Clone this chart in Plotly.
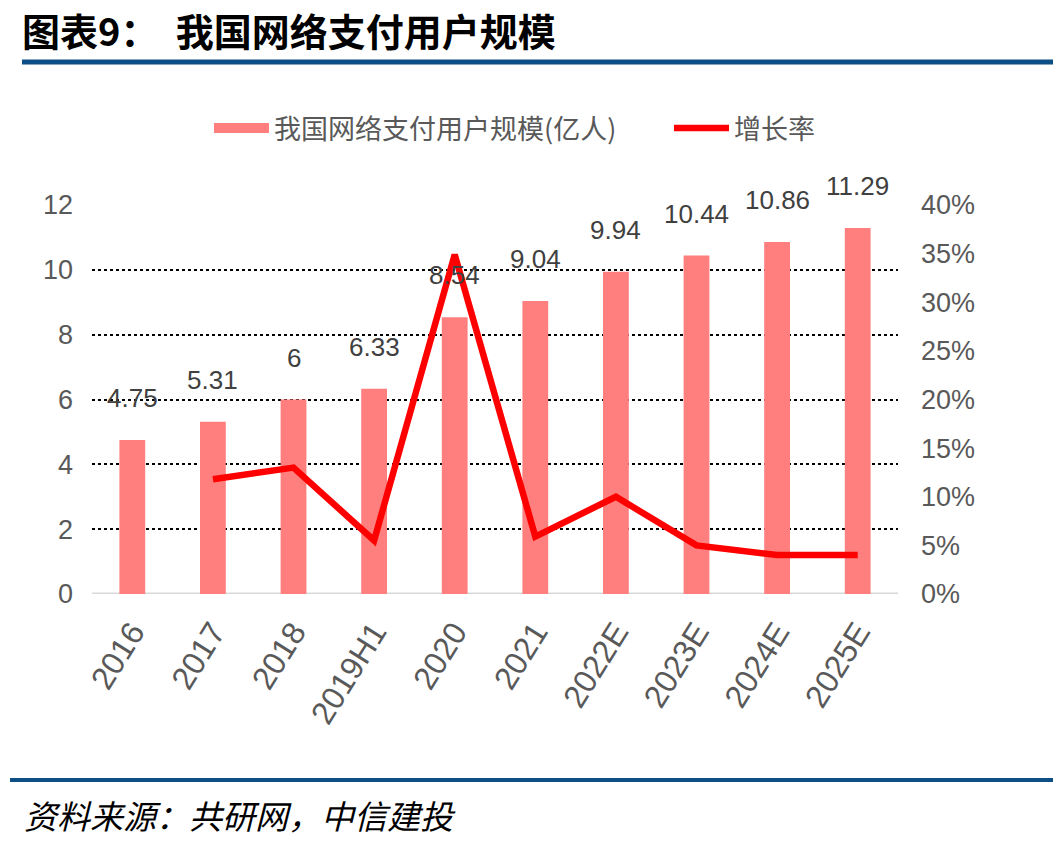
import plotly.graph_objects as go

categories = ["2016", "2017", "2018", "2019H1", "2020", "2021", "2022E", "2023E", "2024E", "2025E"]
users = [4.75, 5.31, 6, 6.33, 8.54, 9.04, 9.94, 10.44, 10.86, 11.29]
growth = [None, 11.8, 13.0, 5.5, 34.9, 5.9, 10.0, 5.0, 4.0, 4.0]
user_labels = ["4.75", "5.31", "6", "6.33", "8.54", "9.04", "9.94", "10.44", "10.86", "11.29"]
left_ticks = [0, 2, 4, 6, 8, 10, 12]
right_ticks = [0, 5, 10, 15, 20, 25, 30, 35, 40]

W, H = 1053, 847
L, R, T, B = 92, 898, 205, 594

def px(x):
    return (x - L) / (R - L)

def py(y):
    return (B - y) / (B - T)

NUM_FONT = "Liberation Sans Narrow, Arial Narrow, Liberation Sans, sans-serif"
CJK_FONT = "Noto Sans CJK SC, sans-serif"
BAR_COLOR = "#FF7F7F"

fig = go.Figure()
fig.add_trace(go.Bar(
    x=categories, y=users, name="我国网络支付用户规模(亿人)",
    marker=dict(color=BAR_COLOR, line=dict(width=0)),
    width=0.32, yaxis="y", showlegend=False,
))
# legend swatch for the bars (wide rectangle like the reference)
fig.add_trace(go.Scatter(
    x=[None], y=[None], name="我国网络支付用户规模(亿人)", mode="lines",
    line=dict(color=BAR_COLOR, width=15), yaxis="y", showlegend=True, legend="legend",
))
fig.add_trace(go.Scatter(
    x=categories, y=growth, name="增长率", mode="lines",
    line=dict(color="#FF0000", width=6.5), yaxis="y2", legend="legend2",
))

# value labels, positioned through the category scale (index of each category)
for i, (v, t) in enumerate(zip(users, user_labels)):
    fig.add_annotation(x=i, y=v, xref="x", yref="y", text=t, showarrow=False,
                       yshift=42, font=dict(family=NUM_FONT, size=26, color="#404040"))

legend_common = dict(orientation="h", y=py(104), xanchor="left", yanchor="top",
                     font=dict(family=CJK_FONT, size=27, color="#595959"),
                     itemwidth=55, bgcolor="rgba(0,0,0,0)")

fig.update_layout(
    width=W, height=H,
    margin=dict(l=L, r=W - R, t=T, b=H - B),
    paper_bgcolor="white", plot_bgcolor="white",
    showlegend=True,
    legend=dict(x=px(209), **legend_common),
    legend2=dict(x=px(669), **legend_common),
    xaxis=dict(type="category", categoryorder="array", categoryarray=categories,
               range=[-0.5, len(categories) - 0.5], autorange=False,
               tickangle=-58,
               tickfont=dict(family=NUM_FONT, size=32, color="#595959"),
               showgrid=False, showline=False, ticks="", ticklabelstandoff=12),
    yaxis=dict(range=[0, 12], tickvals=left_ticks, showgrid=True, gridcolor="#000000",
               griddash="dot", gridwidth=1.5, zeroline=False,
               tickfont=dict(family=NUM_FONT, size=27, color="#595959"),
               ticklabelstandoff=18),
    yaxis2=dict(range=[0, 40], tickvals=right_ticks, ticktext=[f"{v}%" for v in right_ticks],
                overlaying="y", side="right", showgrid=False, zeroline=False,
                tickfont=dict(family=NUM_FONT, size=27, color="#595959"),
                ticklabelstandoff=22),
)

# zero baseline
fig.add_shape(type="line", xref="paper", yref="y", x0=0, x1=1, y0=0, y1=0,
              line=dict(color="#D9D9D9", width=3), layer="below")

# title and rules
fig.add_annotation(xref="paper", yref="paper", x=px(20), y=py(29), xanchor="left", yanchor="middle",
                   text="<b>图表9：  我国网络支付用户规模</b>", showarrow=False,
                   font=dict(family=CJK_FONT, size=38, color="#000000"))
fig.add_shape(type="line", xref="paper", yref="paper", x0=px(22), x1=px(1053), y0=py(62), y1=py(62),
              line=dict(color="#0D4F85", width=5))
fig.add_shape(type="line", xref="paper", yref="paper", x0=px(10), x1=px(1053), y0=py(780), y1=py(780),
              line=dict(color="#0D4F85", width=4))
fig.add_annotation(xref="paper", yref="paper", x=px(22), y=py(815), xanchor="left", yanchor="middle",
                   text="<i>资料来源：共研网，中信建投</i>", showarrow=False,
                   font=dict(family=CJK_FONT, size=33, color="#000000"))

fig.write_html("out.html")
